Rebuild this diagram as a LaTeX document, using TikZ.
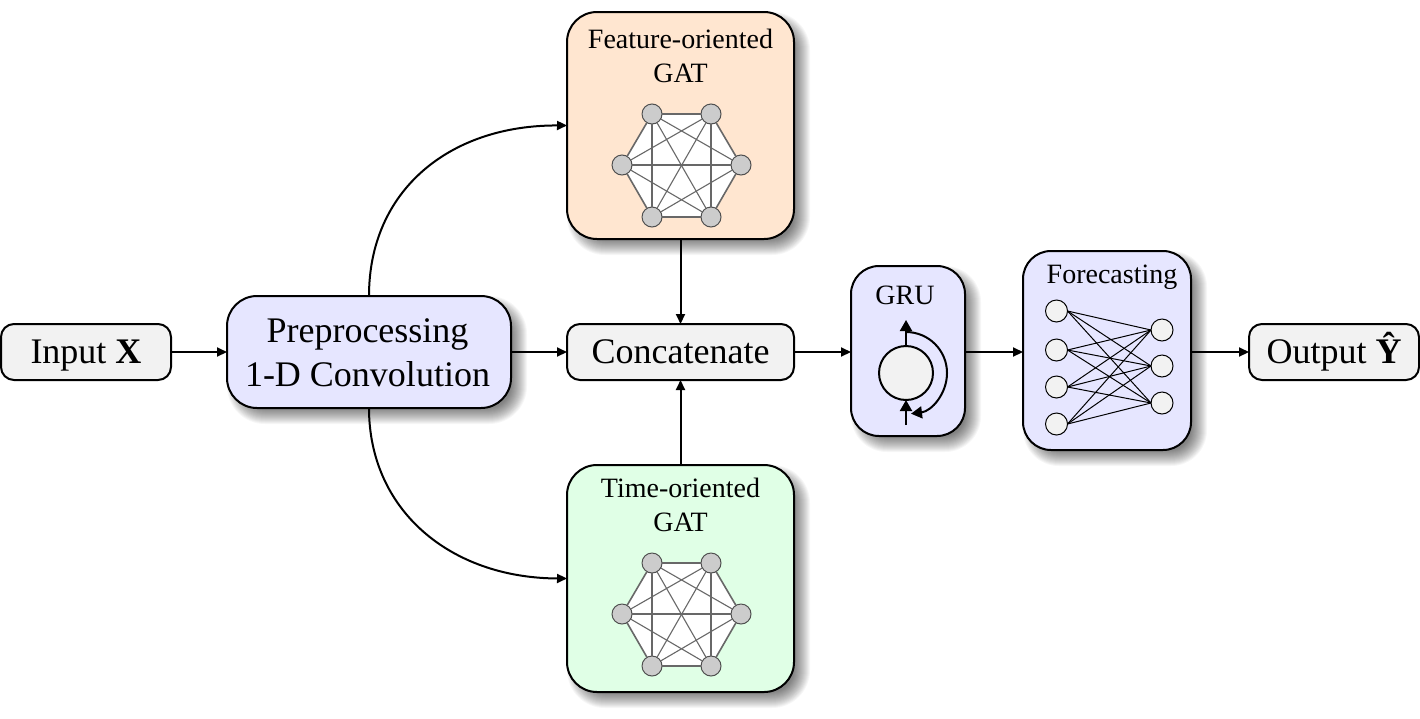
\documentclass[tikz,border=0pt]{standalone}
\usepackage{fontspec}
\setmainfont{Liberation Serif}
\usetikzlibrary{arrows.meta}
\definecolor{boxgrey}{HTML}{F2F2F2}
\definecolor{boxblue}{HTML}{E6E6FF}
\definecolor{boxorange}{HTML}{FFE6D0}
\definecolor{boxgreen}{HTML}{E0FFE6}
\definecolor{dotgrey}{HTML}{CCCCCC}
\definecolor{edgegrey}{HTML}{686868}
\definecolor{dotring}{HTML}{505050}
\tikzset{
  x=1pt,y=-1pt,
  pillbox/.style={draw=black,line width=2pt,rounded corners=13pt,fill=boxgrey,inner sep=0pt,outer sep=0pt,align=center,font=\fontsize{36}{44}\selectfont,minimum width=170pt,minimum height=56pt,text height=27pt,text depth=4pt},
  bigbox/.style={draw=black,line width=2pt,rounded corners=30pt,inner sep=0pt,outer sep=0pt,align=center},
  title/.style={inner sep=0pt,align=center,font=\fontsize{28}{33.5}\selectfont},
  bigtitle/.style={inner sep=0pt,align=center,font=\fontsize{36}{44}\selectfont},
  dot/.style={circle,draw=dotring,line width=1pt,fill=dotgrey,minimum size=20pt,inner sep=0pt,outer sep=0pt},
  neuron/.style={circle,draw=black,line width=1pt,fill=boxgrey,minimum size=22pt,inner sep=0pt,outer sep=0pt},
  link/.style={draw=black,line width=2pt,-{Triangle[length=10pt,width=9pt]}},
  gruarrow/.style={draw=black,line width=2pt,-{Triangle[length=11pt,width=12pt]}},
  gatedge/.style={draw=edgegrey,line width=1.1pt},
  gatrim/.style={draw=edgegrey,line width=1.6pt},
  netedge/.style={draw=black,line width=1pt},
}
% soft shadow: stacked translucent rounded rectangles; args cx cy w h r
\newcommand{\softshadow}[5]{%
  \foreach \d in {-8,-7,...,8}{%
    \pgfmathsetmacro{\rr}{max(#5+\d,1)}%
    \pgfmathsetmacro{\xa}{#1-#3/2+8-\d}%
    \pgfmathsetmacro{\ya}{#2-#4/2+8-\d}%
    \pgfmathsetmacro{\xb}{#1+#3/2+8+\d}%
    \pgfmathsetmacro{\yb}{#2+#4/2+8+\d}%
    \fill[black,opacity=.035,rounded corners=\rr pt] (\xa,\ya) rectangle (\xb,\yb);
  }}
\newcommand{\gatgraph}[2]{%
  \begin{scope}[yshift=#2]
    \fill[white] (652,114)--(711,114)--(741,165)--(711,217)--(652,217)--(622,165)--cycle;
    \node[dot] (#1a) at (652,114) {};
    \node[dot] (#1b) at (711,114) {};
    \node[dot] (#1c) at (741,165) {};
    \node[dot] (#1d) at (711,217) {};
    \node[dot] (#1e) at (652,217) {};
    \node[dot] (#1f) at (622,165) {};
    \foreach \p/\q in {a/b,b/c,c/d,d/e,e/f,f/a}{\draw[gatrim] (#1\p) -- (#1\q);}
    \foreach \p/\q in {a/c,a/d,a/e,b/d,b/e,b/f,c/e,c/f,d/f}{\draw[gatedge] (#1\p) -- (#1\q);}
  \end{scope}}
\begin{document}
\begin{tikzpicture}
\useasboundingbox (0,0) rectangle (1420,718);
\fill[white] (0,0) rectangle (1420,718);
% shadows
\softshadow{369}{352}{284}{112}{30}
\softshadow{680.5}{125.5}{227}{227}{30}
\softshadow{680.5}{578.5}{227}{227}{30}
\softshadow{908}{351}{114}{170}{28}
\softshadow{1107}{350.5}{168}{199}{28}
% boxes
\node[pillbox] (input) at (86,352) {Input \textbf{X}};
\node[bigbox,fill=boxblue,minimum width=284pt,minimum height=112pt] (pre) at (369,352) {};
\node[bigbox,fill=boxorange,minimum width=227pt,minimum height=227pt] (feat) at (680.5,125.5) {};
\node[pillbox,minimum width=227pt] (conc) at (680.5,352) {Concatenate};
\node[bigbox,fill=boxgreen,minimum width=227pt,minimum height=227pt] (time) at (680.5,578.5) {};
\node[bigbox,fill=boxblue,minimum width=114pt,minimum height=170pt,rounded corners=28pt] (gru) at (908,351) {};
\node[bigbox,fill=boxblue,minimum width=168pt,minimum height=199pt,rounded corners=28pt] (fore) at (1107,350.5) {};
\node[pillbox] (out) at (1334,352) {Output \textbf{Ŷ}};
% titles
\node[bigtitle] (pretitle) at (367.5,353) {Preprocessing\\1-D Convolution};
\node[title] (feattitle) at (680.5,56) {Feature-oriented\\GAT};
\node[title] (timetitle) at (680.5,505) {Time-oriented\\GAT};
\node[title] (grutitle) at (905,295) {GRU};
\node[title] (foretitle) at (1112,277) {Forecasting};
% graphs
\gatgraph{p}{0pt}
\gatgraph{q}{-449pt}
% GRU
\node[circle,draw=black,line width=2pt,fill=boxgrey,minimum size=54pt,inner sep=0pt,outer sep=0pt] (cell) at (906,373) {};
\coordinate (cellin) at (906,425);
\coordinate (cellout) at (906,320);
\coordinate (loopstart) at (906,332);
\draw[gruarrow] (cell.north) -- (cellout);
\draw[gruarrow] (cellin) -- (cell.south);
\draw[gruarrow] (loopstart) arc[start angle=90,end angle=-83,radius=41pt];
% forecasting net
\foreach \n/\yy in {1/311,2/350,3/387,4/424}{\node[neuron] (l\n) at (1056.5,\yy) {};}
\foreach \n/\yy in {1/330,2/366,3/403}{\node[neuron] (r\n) at (1162,\yy) {};}
\foreach \a in {1,2,3,4}{\foreach \b in {1,2,3}{\draw[netedge] (l\a.east) -- (r\b.west);}}
% connectors
\draw[link] (input) -- (pre);
\draw[link] (pre) -- (conc);
\draw[link] (feat) -- (conc);
\draw[link] (time) -- (conc);
\draw[link] (conc) -- (gru.west |- conc);
\draw[link] (gru.east |- conc) -- (fore.west |- conc);
\draw[link] (fore.east |- out) -- (out);
\draw[link] (pre.north) .. controls (369,190) and (450,125) .. (feat.west);
\draw[link] (pre.south) .. controls (369,510) and (450,578) .. (time.west);
\end{tikzpicture}
\end{document}
